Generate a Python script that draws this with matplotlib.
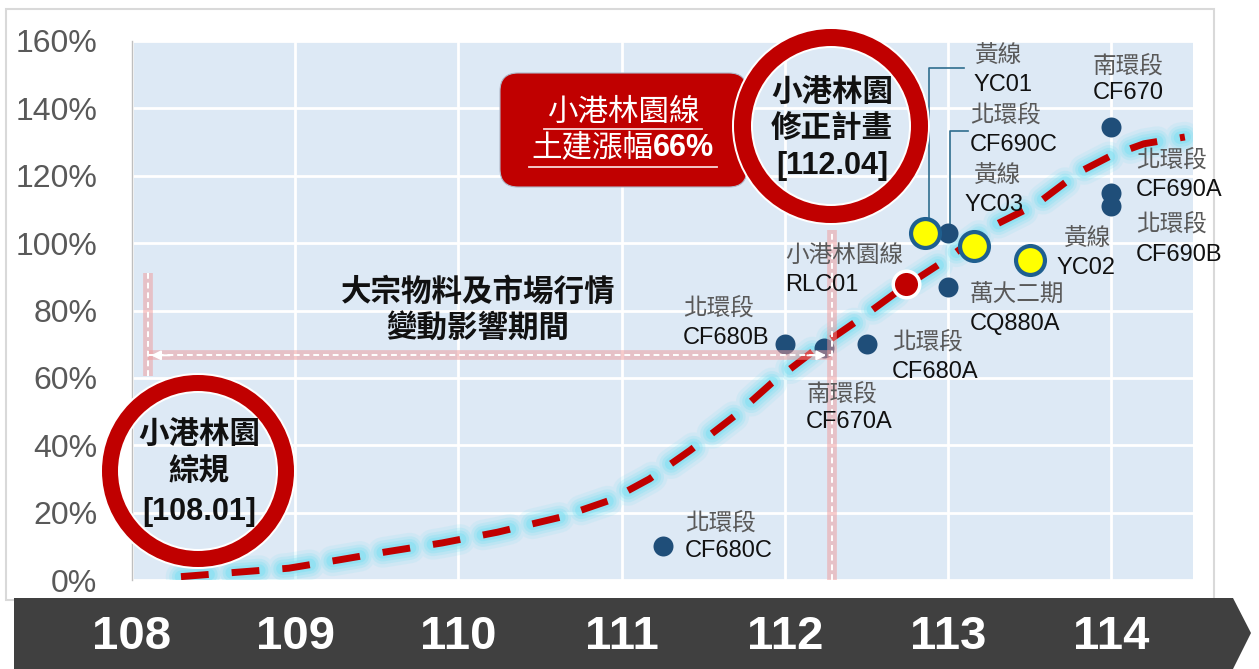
import numpy as np
import matplotlib.pyplot as plt
from matplotlib.patches import Circle, FancyBboxPatch, Polygon, Rectangle
from matplotlib.transforms import Affine2D, blended_transform_factory

plt.rcParams['font.family'] = ['Liberation Sans', 'Noto Sans CJK TC']

# ---- data ----
years = [108, 109, 110, 111, 112, 113, 114]
yticks = [0, 0.2, 0.4, 0.6, 0.8, 1.0, 1.2, 1.4, 1.6]

# dark blue points: 北環段 / 南環段 / 萬大二期
blue_names = ['CF680C', 'CF680B', 'CF670A', 'CF680A', 'CQ880A', 'CF690C', 'CF670', 'CF690A', 'CF690B']
blue_x = [111.25, 112.0, 112.24, 112.5, 113.0, 113.0, 114.0, 114.0, 114.0]
blue_y = [0.10, 0.70, 0.69, 0.70, 0.87, 1.03, 1.345, 1.15, 1.11]

# yellow points: 黃線
yellow_names = ['YC01', 'YC03', 'YC02']
yellow_x = [112.86, 113.16, 113.5]
yellow_y = [1.03, 0.99, 0.95]

# red point: 小港林園線 RLC01
red_x = [112.74]
red_y = [0.88]

# trend curve
trend_x = [108.30, 108.96, 109.26, 109.55, 109.90, 110.24, 110.63, 110.93, 111.17, 111.42,
           111.70, 111.92, 112.19, 112.46, 112.70, 112.97, 113.25, 113.54, 113.80, 114.00,
           114.20, 114.45]
trend_y = [0.01, 0.035, 0.059, 0.083, 0.11, 0.142, 0.187, 0.237, 0.30, 0.385,
           0.49, 0.585, 0.685, 0.775, 0.86, 0.945, 1.045, 1.115, 1.21, 1.26,
           1.295, 1.315]

# period markers
start_x = 108.1
revise_x = 112.29
period_y = 0.667

W, H = 1259, 669
fig = plt.figure(figsize=(W / 100, H / 100), dpi=100)
px = Affine2D().scale(1 / W, -1 / H).translate(0, 1) + fig.transFigure

# outer frame
fig.add_artist(Rectangle((6, 9), 1208, 591, transform=px, fill=False,
                         edgecolor='#D9D9D9', lw=1.5, zorder=-1))

ax = fig.add_axes([132 / W, 1 - 580 / H, (1193 - 132) / W, (580 - 41) / H])
ax.set_facecolor('#DDE9F5')
ax.set_xlim(108, 114.5)
ax.set_ylim(0, 1.6)
ax.set_xticks(years)
ax.set_yticks(yticks)
ax.set_yticklabels([f'{int(round(v * 100))}%' for v in yticks])
ax.tick_params(axis='x', labelbottom=False, length=0)
ax.tick_params(axis='y', length=0, pad=25, labelsize=23, labelcolor='#595959')
ax.grid(color='white', lw=2)
ax.set_axisbelow(True)
for s in ['top', 'right', 'bottom']:
    ax.spines[s].set_visible(False)
ax.spines['left'].set_color('#BFBFBF')
ax.spines['left'].set_linewidth(1)

# glowing dashed trend line
on, off = 20.0, 16.6
for lw, a in [(22, 0.14), (17, 0.22), (13, 0.32), (9, 0.5)]:
    ax.plot(trend_x, trend_y, color='#7FE0F2', lw=lw, alpha=a,
            linestyle=(0, (on / lw, off / lw)), dash_capstyle='round', zorder=2)
ax.plot(trend_x, trend_y, color='#C00000', lw=5, linestyle=(0, (on / 5, off / 5)),
        dash_capstyle='butt', zorder=3)

# leader lines for YC01 and CF690C
ax.plot([112.88, 112.88, 113.10], [1.06, 1.52, 1.52], color='#2F6E8E', lw=1.2, zorder=3)
ax.plot([113.01, 113.01, 113.12], [1.05, 1.333, 1.333], color='#2F6E8E', lw=1.2, zorder=3)

# points
ax.scatter(blue_x, blue_y, s=207, color='#1F4E79', linewidths=0, zorder=5)
ax.scatter(yellow_x, yellow_y, s=433, facecolor='#FFFF00', edgecolor='#1F5F8F',
           linewidths=3, zorder=6)
ax.scatter(red_x, red_y, s=365, facecolor='#C00000', edgecolor='white',
           linewidths=2.5, zorder=6)

# period lines (pink with white dashes)
def pink_line(xs, ys):
    ax.plot(xs, ys, color='#F09A9A', alpha=0.5, lw=7, solid_capstyle='butt', zorder=7)
    ax.plot(xs, ys, color='white', lw=1.4, ls=(0, (3, 2)), zorder=8)

pink_line([revise_x, revise_x], [0, 1.04])
pink_line([start_x, start_x], [0.607, 0.91])
pink_line([start_x, revise_x], [period_y, period_y])
ax.annotate('', xy=(start_x, period_y), xytext=(start_x + 0.15, period_y),
            arrowprops=dict(arrowstyle='-|>', color='white', lw=1.4, mutation_scale=14), zorder=9)
ax.annotate('', xy=(revise_x - 0.02, period_y), xytext=(revise_x - 0.17, period_y),
            arrowprops=dict(arrowstyle='-|>', color='white', lw=1.4, mutation_scale=14), zorder=9)

# point labels: (x, y of CJK line, y of code line, CJK, code, x of code)
labels = [
    (685, 523, 551, '北環段', 'CF680C', 685),
    (683, 308, 338, '北環段', 'CF680B', 683),
    (785, 256, 285, '小港林園線', 'RLC01', 785),
    (807, 394, 422, '南環段', 'CF670A', 806),
    (892, 342, 372, '北環段', 'CF680A', 892),
    (970, 296, 324, '萬大二期', 'CQ880A', 970),
    (974, 56, 85, '黃線', 'YC01', 974),
    (970, 115, 145, '北環段', 'CF690C', 970),
    (973, 176, 205, '黃線', 'YC03', 965),
    (1063, 239, 268, '黃線', 'YC02', 1057),
    (1093, 66, 93, '南環段', 'CF670', 1093),
    (1136, 160, 190, '北環段', 'CF690A', 1136),
    (1136, 224, 255, '北環段', 'CF690B', 1136),
]
for x1, y1, y2, cjk, code, x2 in labels:
    fig.text(x1, y1, cjk, transform=px, fontsize=17, color='#595959',
             ha='left', va='center', zorder=10)
    fig.text(x2, y2, code, transform=px, fontsize=17, color='#111111',
             ha='left', va='center', zorder=10)

# middle text
fig.text(478, 293, '大宗物料及市場行情', transform=px, fontsize=22, fontweight='bold',
         ha='center', va='center', color='#111111', zorder=10)
fig.text(478, 329, '變動影響期間', transform=px, fontsize=22, fontweight='bold',
         ha='center', va='center', color='#111111', zorder=10)

# red callout box
fig.add_artist(FancyBboxPatch((500, 73), 247, 114, transform=px,
                              boxstyle='round,pad=0,rounding_size=18',
                              facecolor='#C00000', edgecolor='#B0B8C8', lw=0.8, zorder=2))
fig.text(623, 113, '小港林園線', transform=px, fontsize=22, color='white',
         ha='center', va='center', zorder=10)
fig.text(653, 148, '土建漲幅', transform=px, fontsize=22, color='white',
         ha='right', va='center', zorder=10)
fig.text(653, 148, '66%', transform=px, fontsize=22, color='white', fontweight='bold',
         ha='left', va='center', zorder=10)
fig.add_artist(plt.Line2D([544, 702], [129, 129], transform=px, color='#F8D8D8', lw=1.3, zorder=10))
fig.add_artist(plt.Line2D([529, 717], [167, 167], transform=px, color='#F8D8D8', lw=1.3, zorder=10))

# red rings
def ring(cx, cy, r_out, width, lines, ys):
    fig.add_artist(Circle((cx, cy), r_out - width / 2, transform=px, fill=False,
                          edgecolor='white', lw=(width + 4) * 0.72, zorder=2.5))
    fig.add_artist(Circle((cx, cy), r_out - width / 2, transform=px, fill=False,
                          edgecolor='#C00000', lw=width * 0.72, zorder=3))
    for t, y in zip(lines, ys):
        fig.text(cx + 1, y, t, transform=px, fontsize=22, fontweight='bold',
                 ha='center', va='center', color='#111111', zorder=10)

ring(198, 471, 96, 16, ['小港林園', '綜規', '[108.01]'], [435, 472, 512])
ring(831, 126, 97, 17, ['小港林園', '修正計畫', '[112.04]'], [93, 129, 166])

# dark year band
fig.add_artist(Polygon([(14, 598), (1233, 598), (1251, 633), (1233, 669), (14, 669)],
                       closed=True, transform=px, facecolor='#404040',
                       edgecolor='none', zorder=1))
bt = blended_transform_factory(ax.transData, px)
for yr in years:
    fig.text(yr, 637, str(yr), transform=bt, fontsize=34, fontweight='bold',
             color='white', ha='center', va='center', zorder=10)

fig.savefig('out.png', dpi=100)
